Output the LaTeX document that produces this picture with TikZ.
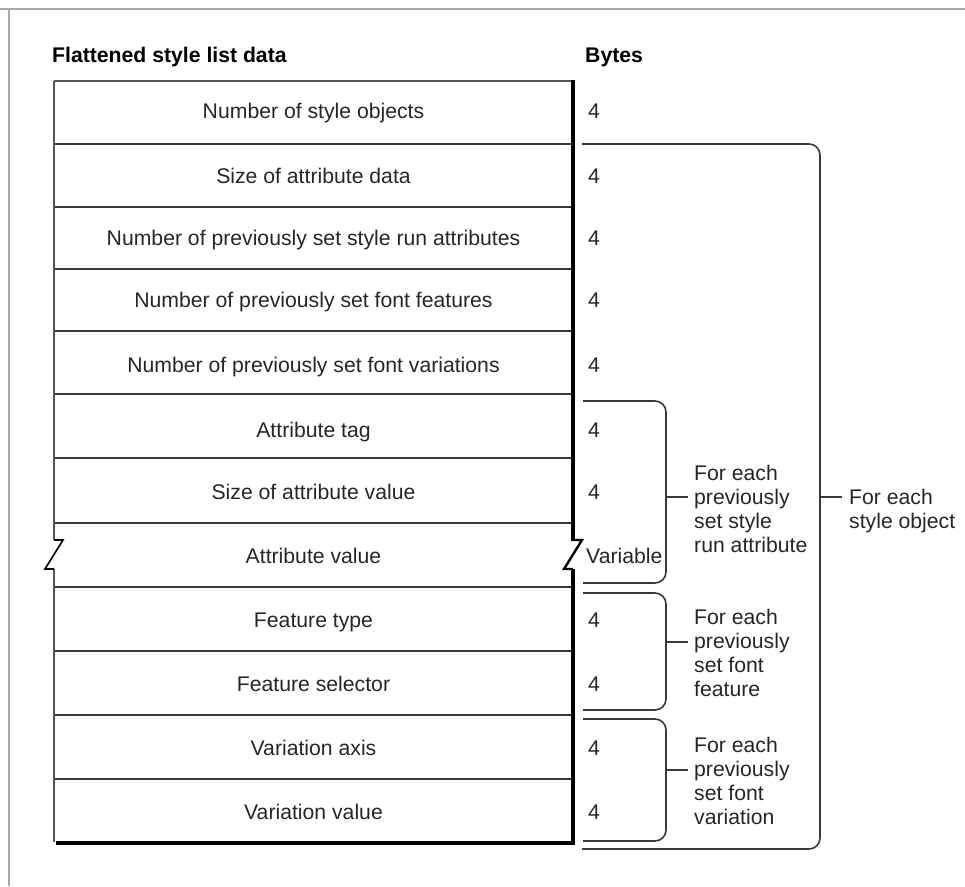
\documentclass[tikz,border=0pt]{standalone}
\usepackage{fontspec}
\setmainfont{Liberation Sans}
\definecolor{framegray}{HTML}{A8A8A8}
\definecolor{linegray}{HTML}{3A3A3A}
\definecolor{edgegray}{HTML}{555555}
\begin{document}
\begin{tikzpicture}[x=1pt,y=-1pt,
  font=\fontsize{21.2}{24}\selectfont,
  frameline/.style={draw=framegray,line width=2.2pt},
  sepline/.style={draw=linegray,line width=1.6pt},
  leftedge/.style={draw=edgegray,line width=2.2pt},
  heavyedge/.style={draw=black,line width=3.6pt},
  zigline/.style={draw=black,line width=1.6pt,line join=miter},
  bracketline/.style={draw=linegray,line width=1.6pt,rounded corners=11pt},
  tickline/.style={draw=linegray,line width=1.6pt},
  fieldtext/.style={anchor=base,inner sep=0pt,text=black!85},
  bytetext/.style={anchor=base west,inner sep=0pt,text=black!85},
  headtext/.style={anchor=base west,inner sep=0pt,font=\fontsize{21.2}{24}\selectfont\bfseries},
  notetext/.style={anchor=north west,inner sep=0pt,align=left,text=black!85}]
\useasboundingbox (0,0) rectangle (965,886);
% outer frame (top and left only)
\draw[frameline] (0,9) -- (965,9);
\draw[frameline] (9,9) -- (9,886);
% headings
\node[headtext] (hd) at (52,62) {Flattened style list data};
\node[headtext] (hb) at (585,62) {Bytes};
% separators
\foreach \y in {144,207,269,331,394,458,523,587,651,715,779}
  \draw[sepline] (54,\y) -- (573,\y);
% top and edges
\draw[leftedge] (54,81) -- (573,81);
\draw[leftedge] (54,81) -- (54,540);
\draw[leftedge] (54,569) -- (54,842);
\draw[zigline] (54,540) -- (63,540) -- (45,569) -- (54,569);
\draw[heavyedge] (573,80) -- (573,540);
\draw[heavyedge] (573,569) -- (573,845);
\draw[zigline,line width=2.4pt] (571,540) -- (582,540) -- (564,569) -- (573,569);
\draw[draw=black,line width=4pt] (56,843) -- (575,843);
% field texts
\node[fieldtext] (f1) at (313.5,118) {Number of style objects};
\node[fieldtext] (f2) at (313.5,183) {Size of attribute data};
\node[fieldtext] (f3) at (313.5,245) {Number of previously set style run attributes};
\node[fieldtext] (f4) at (313.5,307) {Number of previously set font features};
\node[fieldtext] (f5) at (313.5,372) {Number of previously set font variations};
\node[fieldtext] (f6) at (313.5,437) {Attribute tag};
\node[fieldtext] (f7) at (313.5,499) {Size of attribute value};
\node[fieldtext] (f8) at (313.5,563) {Attribute value};
\node[fieldtext] (f9) at (313.5,627) {Feature type};
\node[fieldtext] (f10) at (313.5,691) {Feature selector};
\node[fieldtext] (f11) at (313.5,755) {Variation axis};
\node[fieldtext] (f12) at (313.5,819) {Variation value};
% byte texts
\node[bytetext] (b1) at (588,118) {4};
\node[bytetext] (b2) at (588,183) {4};
\node[bytetext] (b3) at (588,245) {4};
\node[bytetext] (b4) at (588,307) {4};
\node[bytetext] (b5) at (588,372) {4};
\node[bytetext] (b6) at (588,437) {4};
\node[bytetext] (b7) at (588,499) {4};
\node[bytetext] (b8) at (586,563) {Variable};
\node[bytetext] (b9) at (588,627) {4};
\node[bytetext] (b10) at (588,691) {4};
\node[bytetext] (b11) at (588,755) {4};
\node[bytetext] (b12) at (588,819) {4};
% bracket coordinates
\coordinate (aT) at (583,401); \coordinate (aB) at (583,583);
\coordinate (aR) at (666,497); \coordinate (aE) at (688,497);
\coordinate (fT) at (583,593); \coordinate (fB) at (583,710);
\coordinate (fR) at (666,642); \coordinate (fE) at (688,642);
\coordinate (vT) at (583,719); \coordinate (vB) at (583,841);
\coordinate (vR) at (666,770); \coordinate (vE) at (688,770);
\coordinate (oT) at (582,144); \coordinate (oB) at (582,849);
\coordinate (oR) at (820,497); \coordinate (oE) at (842,497);
% brackets
\draw[bracketline] (aT) -| (aR) |- (aB);
\draw[tickline] (aR) -- (aE);
\draw[bracketline] (fT) -| (fR) |- (fB);
\draw[tickline] (fR) -- (fE);
\draw[bracketline] (vT) -| (vR) |- (vB);
\draw[tickline] (vR) -- (vE);
\draw[bracketline] (oT) -| (oR) |- (oB);
\draw[tickline] (oR) -- (oE);
% notes
\node[notetext] (na) at (694,465) {For each\\previously\\set style\\run attribute};
\node[notetext] (nf) at (694,609) {For each\\previously\\set font\\feature};
\node[notetext] (nv) at (694,737) {For each\\previously\\set font\\variation};
\node[notetext] (no) at (849,489) {For each\\style object};
\end{tikzpicture}
\end{document}
